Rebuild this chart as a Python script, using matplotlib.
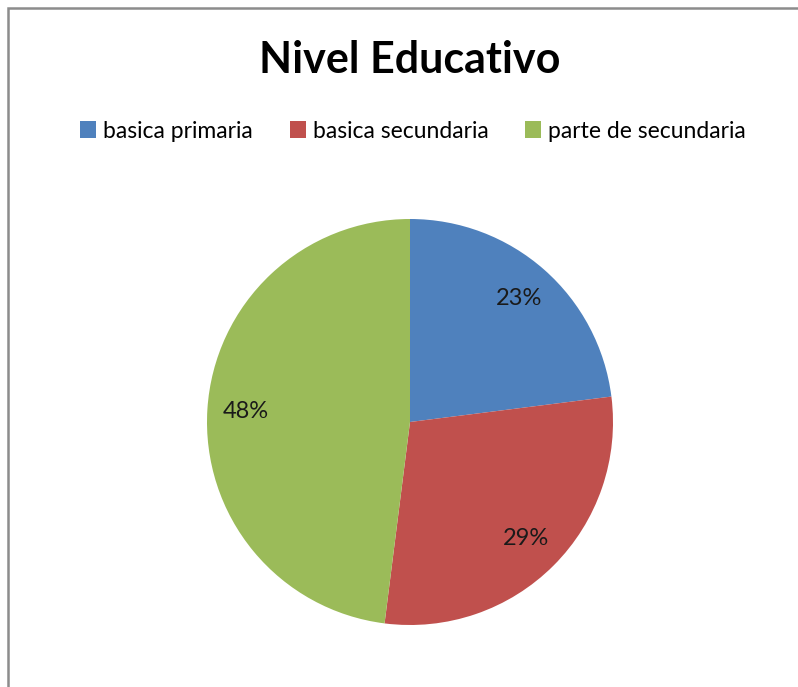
import matplotlib.pyplot as plt
from matplotlib.patches import Rectangle

labels = ['basica primaria', 'basica secundaria', 'parte de secundaria']
values = [23, 29, 48]
colors = ['#4F81BD', '#C0504D', '#9BBB59']

plt.rcParams['font.family'] = ['Lato', 'DejaVu Sans']

fig = plt.figure(figsize=(7.98, 6.87), dpi=100)
W, H = 798, 687

# gray frame, only top and left show in the crop
fig.patches.append(Rectangle((8 / W, -0.05), 1.2, 1 - 8 / H + 0.05,
                             transform=fig.transFigure, fill=False,
                             edgecolor='#8c8c8c', linewidth=1.8))

cx, cy, r = 410, 422, 203
ax = fig.add_axes([(cx - r) / W, 1 - (cy + r) / H, 2 * r / W, 2 * r / H])
wedges, _, autotexts = ax.pie(values, colors=colors, startangle=90,
                              counterclock=False, autopct='%1.0f%%',
                              pctdistance=0.81,
                              wedgeprops=dict(linewidth=0))
for t in autotexts:
    t.set_fontsize(17)
    t.set_color('#1a1a1a')
ax.set_aspect('auto')
ax.set_xlim(-1, 1)
ax.set_ylim(-1, 1)

fig.text(410 / W, 1 - 60 / H, 'Nivel Educativo', ha='center', va='center',
         fontsize=31, fontweight='bold')

fig.legend(wedges, labels, loc='center', bbox_to_anchor=(413 / W, 1 - 131 / H),
           ncol=3, frameon=False, fontsize=16.5, handlelength=0.7,
           handleheight=0.7, handletextpad=0.3, columnspacing=1.6)

fig.savefig('out.png', dpi=100)
